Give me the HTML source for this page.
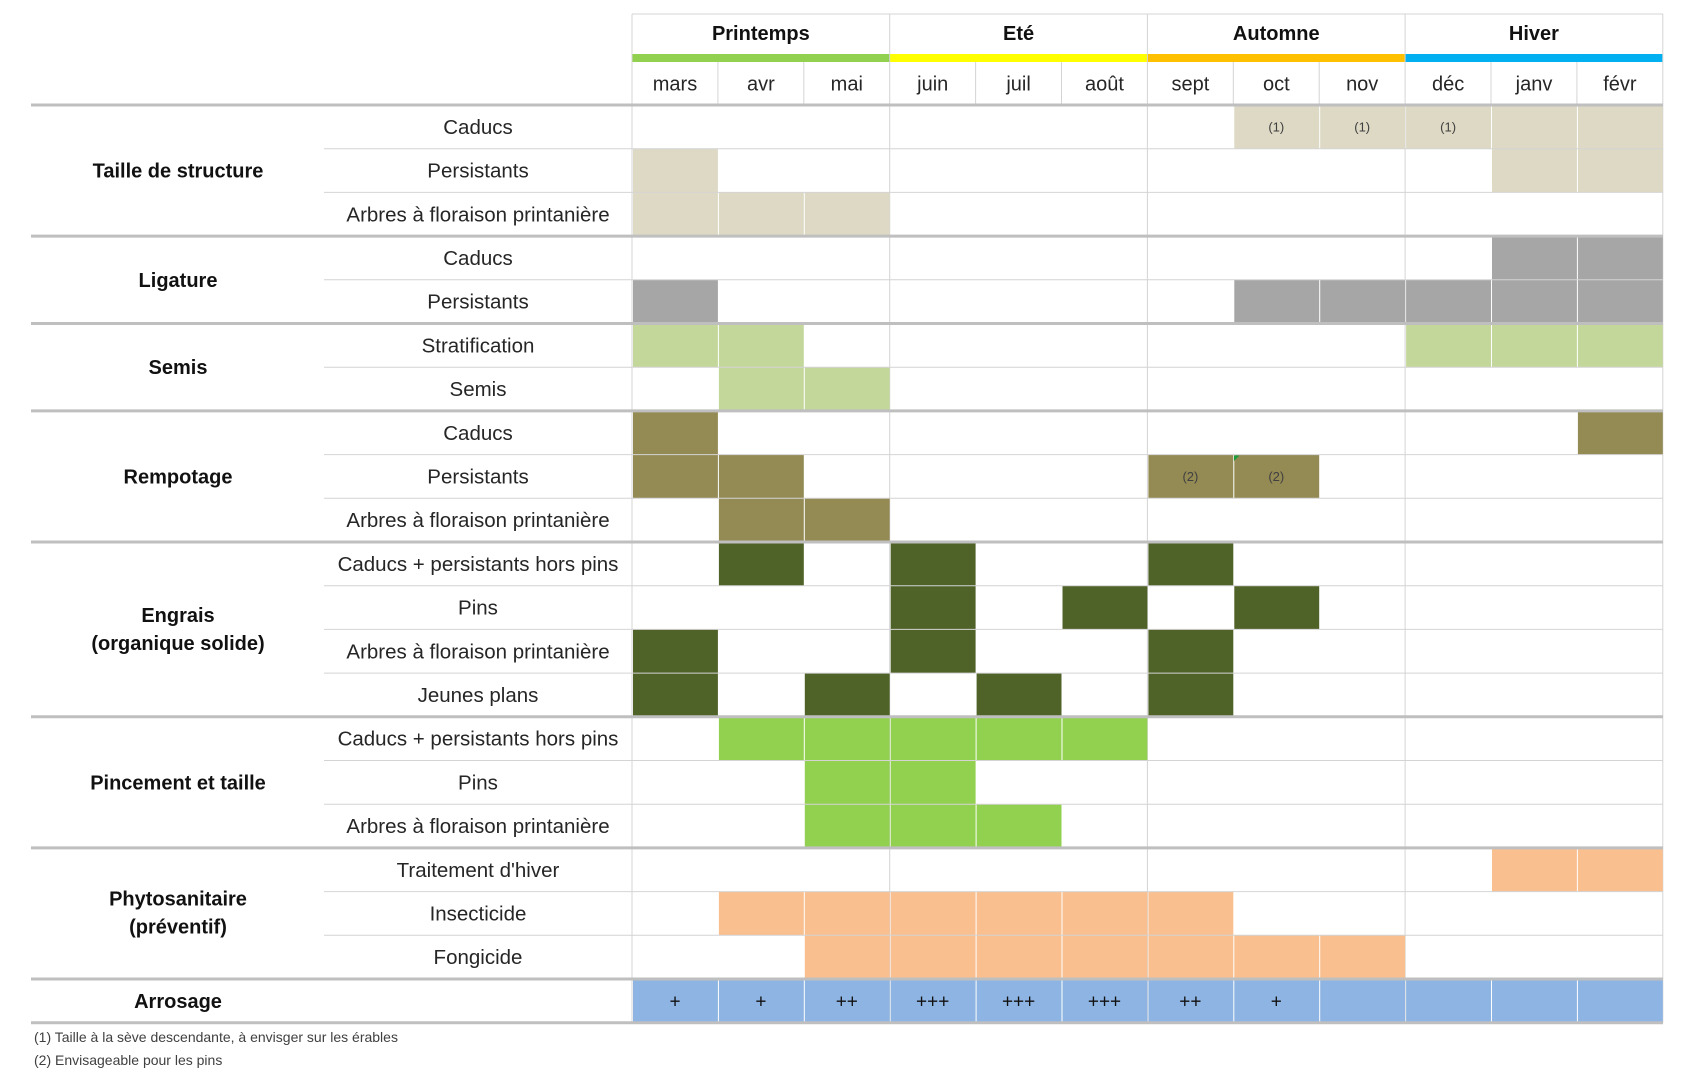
<!DOCTYPE html>
<html><head><meta charset="utf-8"><style>
html,body{margin:0;padding:0;background:#fff;}
svg{display:block;}
text{font-family:"Liberation Sans",sans-serif;fill:#262626;}
.b{font-weight:bold;fill:#111;font-size:20px;}
.m{font-size:20px;}
.s{font-size:20.5px;}
.n{font-size:13px;fill:#404040;}
.f{font-size:14px;fill:#404040;}
.p{font-size:19px;fill:#111;}
</style></head><body>
<svg width="1691" height="1080" viewBox="0 0 1691 1080" xmlns="http://www.w3.org/2000/svg">
<rect width="1691" height="1080" fill="#fff"/>
<!-- header -->
<line x1="632" y1="14" x2="1663" y2="14" stroke="#d4d4d4" stroke-width="1"/>
<rect x="632" y="54" width="257.7" height="8" fill="#92d050"/>
<rect x="889.7" y="54" width="257.7" height="8" fill="#ffff00"/>
<rect x="1147.4" y="54" width="257.7" height="8" fill="#ffc000"/>
<rect x="1405.1" y="54" width="257.7" height="8" fill="#00b0f0"/>
<g stroke="#d4d4d4" stroke-width="1">
<line x1="717.9" y1="62" x2="717.9" y2="105"/>
<line x1="803.8" y1="62" x2="803.8" y2="105"/>
<line x1="975.6" y1="62" x2="975.6" y2="105"/>
<line x1="1061.5" y1="62" x2="1061.5" y2="105"/>
<line x1="1233.3" y1="62" x2="1233.3" y2="105"/>
<line x1="1319.2" y1="62" x2="1319.2" y2="105"/>
<line x1="1491" y1="62" x2="1491" y2="105"/>
<line x1="1576.9" y1="62" x2="1576.9" y2="105"/>
<line x1="632" y1="14" x2="632" y2="1023"/>
<line x1="889.7" y1="14" x2="889.7" y2="1023"/>
<line x1="1147.4" y1="14" x2="1147.4" y2="1023"/>
<line x1="1405.1" y1="14" x2="1405.1" y2="1023"/>
<line x1="1662.8" y1="14" x2="1662.8" y2="1023"/>
</g>
<g text-anchor="middle">
<text class="b" x="760.85" y="40">Printemps</text>
<text class="b" x="1018.55" y="40">Eté</text>
<text class="b" x="1276.25" y="40">Automne</text>
<text class="b" x="1533.95" y="40">Hiver</text>
<text class="m" x="675" y="90.5">mars</text>
<text class="m" x="760.9" y="90.5">avr</text>
<text class="m" x="846.8" y="90.5">mai</text>
<text class="m" x="932.7" y="90.5">juin</text>
<text class="m" x="1018.6" y="90.5">juil</text>
<text class="m" x="1104.5" y="90.5">août</text>
<text class="m" x="1190.4" y="90.5">sept</text>
<text class="m" x="1276.3" y="90.5">oct</text>
<text class="m" x="1362.2" y="90.5">nov</text>
<text class="m" x="1448.1" y="90.5">déc</text>
<text class="m" x="1534" y="90.5">janv</text>
<text class="m" x="1619.9" y="90.5">févr</text>
</g>
<!-- cells -->
<g fill="#ddd9c4">
<rect x="1234.3" y="105" width="84.9" height="43.7"/><rect x="1320.2" y="105" width="84.9" height="43.7"/><rect x="1406.1" y="105" width="84.9" height="43.7"/><rect x="1492" y="105" width="84.9" height="43.7"/><rect x="1577.9" y="105" width="84.9" height="43.7"/>
<rect x="633" y="148.7" width="84.9" height="43.7"/><rect x="1492" y="148.7" width="84.9" height="43.7"/><rect x="1577.9" y="148.7" width="84.9" height="43.7"/>
<rect x="633" y="192.4" width="84.9" height="43.7"/><rect x="718.9" y="192.4" width="84.9" height="43.7"/><rect x="804.8" y="192.4" width="84.9" height="43.7"/>
</g>
<g fill="#a6a6a6">
<rect x="1492" y="236.1" width="84.9" height="43.7"/><rect x="1577.9" y="236.1" width="84.9" height="43.7"/>
<rect x="633" y="279.8" width="84.9" height="43.7"/><rect x="1234.3" y="279.8" width="84.9" height="43.7"/><rect x="1320.2" y="279.8" width="84.9" height="43.7"/><rect x="1406.1" y="279.8" width="84.9" height="43.7"/><rect x="1492" y="279.8" width="84.9" height="43.7"/><rect x="1577.9" y="279.8" width="84.9" height="43.7"/>
</g>
<g fill="#c4d79b">
<rect x="633" y="323.5" width="84.9" height="43.7"/><rect x="718.9" y="323.5" width="84.9" height="43.7"/><rect x="1406.1" y="323.5" width="84.9" height="43.7"/><rect x="1492" y="323.5" width="84.9" height="43.7"/><rect x="1577.9" y="323.5" width="84.9" height="43.7"/>
<rect x="718.9" y="367.2" width="84.9" height="43.7"/><rect x="804.8" y="367.2" width="84.9" height="43.7"/>
</g>
<g fill="#948a54">
<rect x="633" y="410.9" width="84.9" height="43.7"/><rect x="1577.9" y="410.9" width="84.9" height="43.7"/>
<rect x="633" y="454.6" width="84.9" height="43.7"/><rect x="718.9" y="454.6" width="84.9" height="43.7"/><rect x="1148.4" y="454.6" width="84.9" height="43.7"/><rect x="1234.3" y="454.6" width="84.9" height="43.7"/>
<rect x="718.9" y="498.3" width="84.9" height="43.7"/><rect x="804.8" y="498.3" width="84.9" height="43.7"/>
</g>
<g fill="#4f6228">
<rect x="718.9" y="542" width="84.9" height="43.7"/><rect x="890.7" y="542" width="84.9" height="43.7"/><rect x="1148.4" y="542" width="84.9" height="43.7"/>
<rect x="890.7" y="585.7" width="84.9" height="43.7"/><rect x="1062.5" y="585.7" width="84.9" height="43.7"/><rect x="1234.3" y="585.7" width="84.9" height="43.7"/>
<rect x="633" y="629.4" width="84.9" height="43.7"/><rect x="890.7" y="629.4" width="84.9" height="43.7"/><rect x="1148.4" y="629.4" width="84.9" height="43.7"/>
<rect x="633" y="673.1" width="84.9" height="43.7"/><rect x="804.8" y="673.1" width="84.9" height="43.7"/><rect x="976.6" y="673.1" width="84.9" height="43.7"/><rect x="1148.4" y="673.1" width="84.9" height="43.7"/>
</g>
<g fill="#92d050">
<rect x="718.9" y="716.8" width="84.9" height="43.7"/><rect x="804.8" y="716.8" width="84.9" height="43.7"/><rect x="890.7" y="716.8" width="84.9" height="43.7"/><rect x="976.6" y="716.8" width="84.9" height="43.7"/><rect x="1062.5" y="716.8" width="84.9" height="43.7"/>
<rect x="804.8" y="760.5" width="84.9" height="43.7"/><rect x="890.7" y="760.5" width="84.9" height="43.7"/>
<rect x="804.8" y="804.2" width="84.9" height="43.7"/><rect x="890.7" y="804.2" width="84.9" height="43.7"/><rect x="976.6" y="804.2" width="84.9" height="43.7"/>
</g>
<g fill="#f9bf8f">
<rect x="1492" y="847.9" width="84.9" height="43.7"/><rect x="1577.9" y="847.9" width="84.9" height="43.7"/>
<rect x="718.9" y="891.6" width="84.9" height="43.7"/><rect x="804.8" y="891.6" width="84.9" height="43.7"/><rect x="890.7" y="891.6" width="84.9" height="43.7"/><rect x="976.6" y="891.6" width="84.9" height="43.7"/><rect x="1062.5" y="891.6" width="84.9" height="43.7"/><rect x="1148.4" y="891.6" width="84.9" height="43.7"/>
<rect x="804.8" y="935.3" width="84.9" height="43.7"/><rect x="890.7" y="935.3" width="84.9" height="43.7"/><rect x="976.6" y="935.3" width="84.9" height="43.7"/><rect x="1062.5" y="935.3" width="84.9" height="43.7"/><rect x="1148.4" y="935.3" width="84.9" height="43.7"/><rect x="1234.3" y="935.3" width="84.9" height="43.7"/><rect x="1320.2" y="935.3" width="84.9" height="43.7"/>
</g>
<g fill="#8db4e2">
<rect x="633" y="979" width="84.9" height="43.7"/><rect x="718.9" y="979" width="84.9" height="43.7"/><rect x="804.8" y="979" width="84.9" height="43.7"/><rect x="890.7" y="979" width="84.9" height="43.7"/><rect x="976.6" y="979" width="84.9" height="43.7"/><rect x="1062.5" y="979" width="84.9" height="43.7"/><rect x="1148.4" y="979" width="84.9" height="43.7"/><rect x="1234.3" y="979" width="84.9" height="43.7"/><rect x="1320.2" y="979" width="84.9" height="43.7"/><rect x="1406.1" y="979" width="84.9" height="43.7"/><rect x="1492" y="979" width="84.9" height="43.7"/><rect x="1577.9" y="979" width="84.9" height="43.7"/>
</g>
<polygon points="1234,455.5 1239.5,455.5 1234,461" fill="#1a9c3a"/>
<!-- thin row lines -->
<g stroke="#d4d4d4" stroke-width="1">
<line x1="324" y1="148.7" x2="1662.8" y2="148.7"/>
<line x1="324" y1="192.4" x2="1662.8" y2="192.4"/>
<line x1="324" y1="279.8" x2="1662.8" y2="279.8"/>
<line x1="324" y1="367.2" x2="1662.8" y2="367.2"/>
<line x1="324" y1="454.6" x2="1662.8" y2="454.6"/>
<line x1="324" y1="498.3" x2="1662.8" y2="498.3"/>
<line x1="324" y1="585.7" x2="1662.8" y2="585.7"/>
<line x1="324" y1="629.4" x2="1662.8" y2="629.4"/>
<line x1="324" y1="673.1" x2="1662.8" y2="673.1"/>
<line x1="324" y1="760.5" x2="1662.8" y2="760.5"/>
<line x1="324" y1="804.2" x2="1662.8" y2="804.2"/>
<line x1="324" y1="891.6" x2="1662.8" y2="891.6"/>
<line x1="324" y1="935.3" x2="1662.8" y2="935.3"/>
</g>
<!-- thick group lines -->
<g stroke="#bfbfbf" stroke-width="3">
<line x1="31" y1="105" x2="1663" y2="105"/>
<line x1="31" y1="236.1" x2="1663" y2="236.1"/>
<line x1="31" y1="323.5" x2="1663" y2="323.5"/>
<line x1="31" y1="410.9" x2="1663" y2="410.9"/>
<line x1="31" y1="542" x2="1663" y2="542"/>
<line x1="31" y1="716.8" x2="1663" y2="716.8"/>
<line x1="31" y1="847.9" x2="1663" y2="847.9"/>
<line x1="31" y1="979" x2="1663" y2="979"/>
<line x1="31" y1="1022.7" x2="1663" y2="1022.7"/>
</g>
<!-- category labels -->
<g text-anchor="middle">
<text class="b" x="178" y="177.5">Taille de structure</text>
<text class="b" x="178" y="286.8">Ligature</text>
<text class="b" x="178" y="374.2">Semis</text>
<text class="b" x="178" y="483.5">Rempotage</text>
<text class="b" x="178" y="622">Engrais</text>
<text class="b" x="178" y="650">(organique solide)</text>
<text class="b" x="178" y="789.4">Pincement et taille</text>
<text class="b" x="178" y="905.6">Phytosanitaire</text>
<text class="b" x="178" y="933.6">(préventif)</text>
<text class="b" x="178" y="1007.9">Arrosage</text>
</g>
<g text-anchor="middle">
<text class="s" x="478" y="133.9">Caducs</text>
<text class="s" x="478" y="177.6">Persistants</text>
<text class="s" x="478" y="221.3">Arbres à floraison printanière</text>
<text class="s" x="478" y="265">Caducs</text>
<text class="s" x="478" y="308.7">Persistants</text>
<text class="s" x="478" y="352.4">Stratification</text>
<text class="s" x="478" y="396.1">Semis</text>
<text class="s" x="478" y="439.8">Caducs</text>
<text class="s" x="478" y="483.5">Persistants</text>
<text class="s" x="478" y="527.2">Arbres à floraison printanière</text>
<text class="s" x="478" y="570.9">Caducs + persistants hors pins</text>
<text class="s" x="478" y="614.6">Pins</text>
<text class="s" x="478" y="658.3">Arbres à floraison printanière</text>
<text class="s" x="478" y="702">Jeunes plans</text>
<text class="s" x="478" y="745.7">Caducs + persistants hors pins</text>
<text class="s" x="478" y="789.4">Pins</text>
<text class="s" x="478" y="833.1">Arbres à floraison printanière</text>
<text class="s" x="478" y="876.8">Traitement d'hiver</text>
<text class="s" x="478" y="920.5">Insecticide</text>
<text class="s" x="478" y="964.2">Fongicide</text>
</g>
<g text-anchor="middle">
<text class="n" x="1276.3" y="131.5">(1)</text>
<text class="n" x="1362.2" y="131.5">(1)</text>
<text class="n" x="1448.1" y="131.5">(1)</text>
<text class="n" x="1190.4" y="481">(2)</text>
<text class="n" x="1276.3" y="481">(2)</text>
<text class="p" x="675" y="1007.5">+</text>
<text class="p" x="760.9" y="1007.5">+</text>
<text class="p" x="846.8" y="1007.5">++</text>
<text class="p" x="932.7" y="1007.5">+++</text>
<text class="p" x="1018.6" y="1007.5">+++</text>
<text class="p" x="1104.5" y="1007.5">+++</text>
<text class="p" x="1190.4" y="1007.5">++</text>
<text class="p" x="1276.3" y="1007.5">+</text>
</g>
<text class="f" x="34" y="1042">(1) Taille à la sève descendante, à envisger sur les érables</text>
<text class="f" x="34" y="1065">(2) Envisageable pour les pins</text>
</svg>
</body></html>
